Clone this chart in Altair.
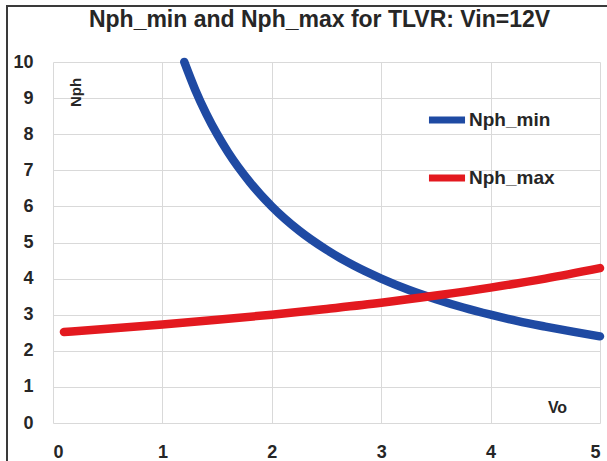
import altair as alt
import pandas as pd

# Minimum phase count vs output voltage
vo_min = [1.2, 1.3, 1.4, 1.5, 1.6, 1.8, 2.0, 2.25, 2.5, 2.75, 3.0, 3.25, 3.5, 3.75, 4.0, 4.25, 4.5, 4.75, 5.0]
nph_min = [10.0, 9.23, 8.57, 8.0, 7.5, 6.67, 6.0, 5.33, 4.8, 4.36, 4.0, 3.69, 3.43, 3.2, 3.0, 2.82, 2.67, 2.53, 2.4]

# Maximum phase count vs output voltage
vo_max = [0.1, 0.5, 1.0, 1.5, 2.0, 2.5, 3.0, 3.5, 4.0, 4.5, 5.0]
nph_max = [2.52, 2.61, 2.73, 2.86, 3.0, 3.16, 3.33, 3.53, 3.75, 4.0, 4.29]

series_names = ["Nph_min", "Nph_max"]
series_colors = ["#1f4aa3", "#e3191f"]

x_ticks = [0, 1, 2, 3, 4, 5]
y_ticks = [0, 1, 2, 3, 4, 5, 6, 7, 8, 9, 10]

df = pd.concat([
    pd.DataFrame({"Vo": vo_min, "Nph": nph_min, "series": "Nph_min", "order": range(len(vo_min))}),
    pd.DataFrame({"Vo": vo_max, "Nph": nph_max, "series": "Nph_max", "order": range(len(vo_max))}),
])

W, H = 547, 361
FONT = "Liberation Sans"
TEXT = "#262626"

lines = alt.Chart(df).mark_line(strokeWidth=8.5, interpolate="monotone", strokeCap="round").encode(
    x=alt.X("Vo:Q", scale=alt.Scale(domain=[0, 5], nice=False),
            axis=alt.Axis(values=x_ticks, title="Vo", titleX=504, titleY=-8,
                          titleAlign="center", titleBaseline="bottom",
                          labelPadding=20, format="d")),
    y=alt.Y("Nph:Q", scale=alt.Scale(domain=[0, 10], nice=False),
            axis=alt.Axis(values=y_ticks, title="Nph", titleX=22, titleY=30,
                          titleAngle=-90, titleAlign="center", titleBaseline="middle",
                          titleFontSize=15, labelPadding=20, format="d")),
    color=alt.Color("series:N", scale=alt.Scale(domain=series_names, range=series_colors),
                    sort=series_names,
                    legend=alt.Legend(title=None, orient="none", legendX=372, legendY=36,
                                      symbolType="stroke", symbolSize=1300,
                                      symbolStrokeWidth=7, rowPadding=22,
                                      labelOffset=0, labelFontSize=19, labelFont=FONT,
                                      labelFontWeight="bold", labelColor=TEXT)),
    detail="series:N",
    order="order:Q",
)

# Figure frame; only its left and top edges fall inside the canvas
frame = alt.Chart().mark_rect(fill=None, stroke="#3a3a3a", strokeWidth=2).encode(
    x=alt.value(-46), x2=alt.value(W + 60), y=alt.value(-56), y2=alt.value(H + 60))

chart = alt.layer(frame, lines).properties(
    width=W, height=H,
    background="white",
    padding={"left": 53, "top": 62, "right": 7, "bottom": 38},
    autosize=alt.AutoSizeParams(type="none"),
    title=alt.Title("Nph_min and Nph_max for TLVR: Vin=12V", fontSize=23, font=FONT,
                    fontWeight="bold", color=TEXT, anchor="middle", dx=-7,
                    offset=0, baseline="bottom", dy=50),
).configure_view(stroke=None).configure_axis(
    grid=True, gridColor="#d9d9d9", gridWidth=1, domain=False, ticks=False,
    labelFont=FONT, labelFontSize=18, labelFontWeight="bold", labelColor=TEXT,
    titleFont=FONT, titleFontSize=16, titleFontWeight="bold", titleColor=TEXT,
)

chart.save("out.html", embed_options={"renderer": "svg", "actions": False})
